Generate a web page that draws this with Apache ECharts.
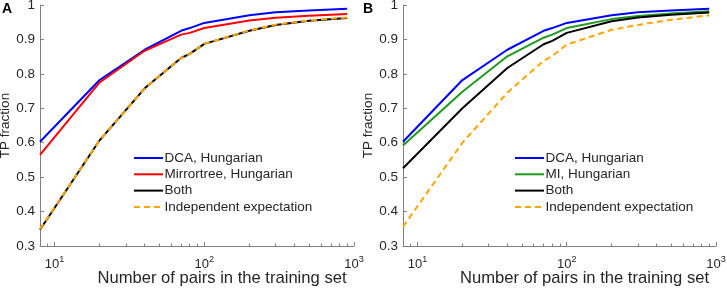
<!DOCTYPE html>
<html>
<head>
<meta charset="utf-8">
<script src="https://cdn.jsdelivr.net/npm/echarts@6/dist/echarts.min.js"></script>
<style>html,body{margin:0;padding:0;background:#fff}#c{width:727px;height:288px}</style>
</head>
<body>
<div id="c"></div>
<script>
// Training set sizes (x values)
var xs = [8, 20, 40, 70, 80, 100, 200, 300, 500, 900];
// Panel A
var aDCA   = [0.603, 0.782, 0.870, 0.925, 0.933, 0.948, 0.970, 0.979, 0.984, 0.989];
var aMirr  = [0.565, 0.775, 0.867, 0.914, 0.919, 0.933, 0.955, 0.963, 0.969, 0.974];
var aBoth  = [0.347, 0.607, 0.758, 0.846, 0.858, 0.887, 0.925, 0.942, 0.954, 0.962];
var aIndep = [0.349, 0.607, 0.758, 0.846, 0.858, 0.887, 0.926, 0.943, 0.955, 0.964];
// Panel B
var bDCA   = [0.603, 0.782, 0.870, 0.925, 0.933, 0.948, 0.970, 0.979, 0.984, 0.989];
var bMI    = [0.592, 0.748, 0.851, 0.905, 0.914, 0.933, 0.959, 0.968, 0.975, 0.982];
var bBoth  = [0.526, 0.700, 0.817, 0.886, 0.896, 0.919, 0.953, 0.964, 0.972, 0.978];
var bIndep = [0.356, 0.600, 0.745, 0.838, 0.852, 0.885, 0.928, 0.942, 0.957, 0.970];
// Ticks
var xMajor = [10, 100, 1000];
var xMinor = [9, 20, 30, 40, 50, 60, 70, 80, 90, 200, 300, 400, 500, 600, 700, 800, 900];
var yTicks = [0.3, 0.4, 0.5, 0.6, 0.7, 0.8, 0.9, 1];

var FONT = 'Liberation Sans, Arial, sans-serif';
var AX = '#808080', TXT = '#262626';
function pairs(v){ return xs.map(function(x,i){ return [x, v[i]]; }); }

function xAxes(g){
  return [{
    type:'log', logBase:10, min:8, max:1000, gridIndex:g, position:'bottom',
    axisLine:{show:true, lineStyle:{color:AX, width:1}},
    axisTick:{show:true, inside:true, length:4, customValues:xMajor, lineStyle:{color:AX}},
    splitLine:{show:false},
    axisLabel:{customValues:xMajor, margin:9, color:TXT,
      formatter:function(v){ return '{b|10}{s|' + Math.round(Math.log10(v)) + '}'; },
      rich:{ b:{fontSize:13, fontFamily:FONT, color:TXT}, s:{fontSize:9, fontFamily:FONT, color:TXT, padding:[0,0,9,0]} }
    },
    name:'Number of pairs in the training set', nameLocation:'middle', nameGap:24, nameMoveOverlap:false,
    nameTextStyle:{fontSize:16.6, fontFamily:FONT, color:TXT, padding:[0,0,0,50]}
  },{
    type:'log', logBase:10, min:8, max:1000, gridIndex:g, position:'bottom',
    axisLine:{show:false}, splitLine:{show:false}, axisLabel:{show:false},
    axisTick:{show:true, inside:true, length:2.5, customValues:xMinor, lineStyle:{color:AX}}
  }];
}
function yAxis(g){
  return {
    type:'value', min:0.3, max:1, interval:0.1, gridIndex:g,
    axisLine:{show:true, lineStyle:{color:AX, width:1}},
    axisTick:{show:true, inside:true, length:4, lineStyle:{color:AX}},
    splitLine:{show:false},
    axisLabel:{margin:5, fontSize:13.5, fontFamily:FONT, color:TXT,
      formatter:function(v){ return String(Math.round(v*10)/10); }},
    name:'TP fraction', nameLocation:'middle', nameGap:28, nameMoveOverlap:false,
    nameTextStyle:{fontSize:13.5, fontFamily:FONT, color:TXT}
  };
}
function ser(name, v, g, color, dashed){
  return {
    type:'line', name:name, data:pairs(v), xAxisIndex:g*2, yAxisIndex:g,
    symbol:'none', showSymbol:false, animation:false, silent:true,
    lineStyle:{color:color, width:2, type: dashed ? [6,4] : 'solid'},
    itemStyle:{color:color}
  };
}
var legendCommon = {
  orient:'vertical', itemWidth:29, itemHeight:14, itemGap:2.3, padding:0,
  itemStyle:{opacity:0},
  textStyle:{fontSize:13.5, fontFamily:FONT, color:TXT, padding:[0,0,0,-3.5]},
  selectedMode:false
};

var chart = echarts.init(document.getElementById('c'), null, {renderer:'canvas'});
chart.setOption({
  animation:false,
  backgroundColor:'#fff',
  grid:[
    {left:40, top:5, width:314, height:241, containLabel:false, outerBoundsMode:'none'},
    {left:403, top:5, width:313, height:241, containLabel:false, outerBoundsMode:'none'}
  ],
  xAxis: xAxes(0).concat(xAxes(1)),
  yAxis: [yAxis(0), yAxis(1)],
  legend:[
    Object.assign({left:133, top:151, data:['DCA, Hungarian','Mirrortree, Hungarian','Both','Independent expectation']}, legendCommon),
    Object.assign({left:514, top:151, data:['DCA, Hungarian','MI, Hungarian','Both','Independent expectation']}, legendCommon)
  ],
  graphic:[
    {type:'text', left:2, top:2, style:{text:'A', font:'bold 14px ' + FONT, fill:'#000'}},
    {type:'text', left:363, top:2, style:{text:'B', font:'bold 14px ' + FONT, fill:'#000'}}
  ],
  series:[
    ser('DCA, Hungarian', aDCA, 0, '#0000ff'),
    ser('Mirrortree, Hungarian', aMirr, 0, '#ff0000'),
    ser('Both', aBoth, 0, '#000000'),
    ser('Independent expectation', aIndep, 0, '#ffa500', true),
    ser('DCA, Hungarian', bDCA, 1, '#0000ff'),
    ser('MI, Hungarian', bMI, 1, '#1f9a1f'),
    ser('Both', bBoth, 1, '#000000'),
    ser('Independent expectation', bIndep, 1, '#ffa500', true)
  ]
});
</script>
</body>
</html>
